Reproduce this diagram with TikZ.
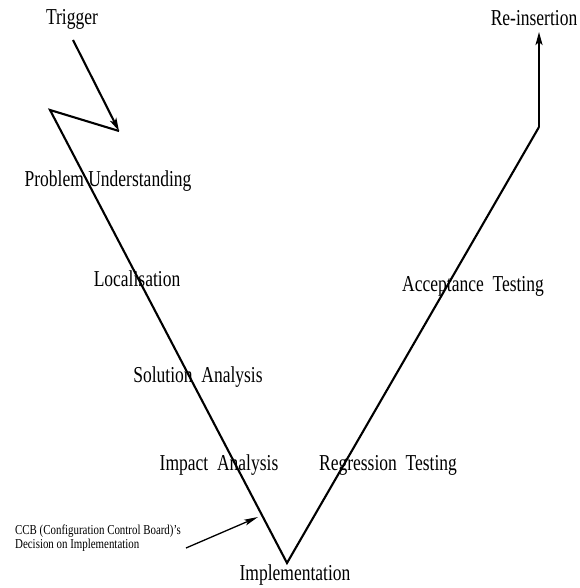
\documentclass[tikz,border=0pt]{standalone}
\usepackage{graphicx}
\usepackage{fontspec}
\setmainfont{Liberation Serif}
\usetikzlibrary{arrows.meta}
% tall, narrow lettering
\newcommand\talltxt[1]{\scalebox{1}[1.3]{#1}}
\newcommand\tallnote[1]{\scalebox{1}[1.25]{#1}}
\newcommand\wgap{\hspace{0.5em}}
\begin{document}
\begin{tikzpicture}[x=1pt,y=-1pt,
  vline/.style={line width=2.1pt, line join=miter},
  flow/.style={line width=2.1pt, -{Stealth[length=13pt,width=7pt,inset=3pt]}},
  lbl/.style={inner sep=0pt, anchor=base, font=\fontsize{17.5}{20}\selectfont},
  note/.style={inner sep=0pt, anchor=base west, font=\fontsize{10.9}{13}\selectfont}]
  \useasboundingbox (0,0) rectangle (579,588);

  % end labels
  \node[lbl] (trigger) at (72,25)  {\talltxt{Trigger}};
  \node[lbl] (reins)   at (534,26) {\talltxt{Re-insertion}};
  \node[lbl] (impl)    at (295,580) {\talltxt{Implementation}};

  % phase labels along the V
  \node[lbl] (pu)  at (108,186) {\talltxt{Problem Understanding}};
  \node[lbl] (loc) at (137,286) {\talltxt{Localisation}};
  \node[lbl] (sa)  at (198,382) {\talltxt{Solution\wgap Analysis}};
  \node[lbl] (ia)  at (219,470) {\talltxt{Impact\wgap Analysis}};
  \node[lbl] (rt)  at (388,470) {\talltxt{Regression\wgap Testing}};
  \node[lbl] (at)  at (473,291) {\talltxt{Acceptance\wgap Testing}};

  % CCB decision note, two lines
  \node[note] (ccb1) at (15,534) {\tallnote{CCB (Configuration Control Board)'s}};
  \node[note] (ccb2) at (15,548) {\tallnote{Decision on Implementation}};

  % corner points of the V
  \coordinate (tstart) at (73,40);
  \coordinate (kink)   at (119,131);
  \coordinate (zig)    at (50,110);
  \coordinate (vbot)   at (287,563);
  \coordinate (knee)   at (539,127);
  \coordinate (rtop)   at (539,32);
  \coordinate (cstart) at (186,548);
  \coordinate (ctip)   at (258,517);

  % trigger arrow and the zig-zag into the left leg
  \draw[flow] (tstart) -- (kink);
  \draw[vline] (kink) -- (zig) -- (vbot) -- (knee);
  \draw[flow] (knee) -- (rtop);

  % CCB decision arrow
  \draw[line width=1.3pt, -{Stealth[length=14pt,width=6pt,inset=3pt]}] (cstart) -- (ctip);
\end{tikzpicture}
\end{document}
